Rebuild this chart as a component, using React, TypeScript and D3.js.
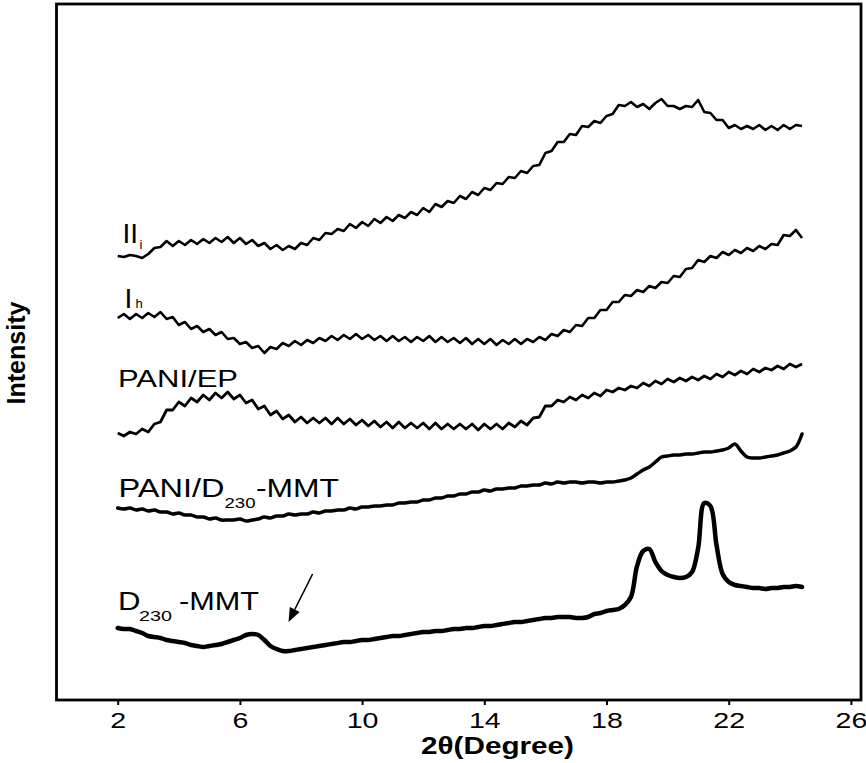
import React, { useEffect, useRef } from "react";
import * as d3 from "d3";

const W = 866;
const H = 763;

// 2θ sampling grid (degrees), 2.0 → 24.4 in 0.2° steps
const twoTheta: number[] = d3.range(113).map((i) => +(2 + i * 0.2).toFixed(1));
const xTicks = [2, 6, 10, 14, 18, 22, 26];

// Intensities (arbitrary units, stacked offsets as in the figure)
const seriesIIi = [
  444, 443, 445, 444, 442, 446, 452, 453, 459, 454,
  459, 455, 460, 456, 461, 457, 462, 458, 463, 457,
  462, 456, 460, 454, 457, 451, 455, 450, 454, 451,
  457, 455, 462, 460, 467, 466, 471, 469, 476, 472,
  478, 474, 481, 477, 483, 479, 485, 482, 488, 485,
  492, 488, 496, 493, 499, 497, 504, 501, 508, 505,
  512, 510, 517, 516, 523, 522, 529, 527, 534, 535,
  547, 549, 558, 558, 566, 565, 574, 573, 579, 577,
  584, 586, 595, 594, 598, 593, 596, 591, 597, 601,
  594, 594, 591, 594, 593, 600, 588, 587, 580, 580,
  572, 575, 571, 574, 571, 575, 570, 574, 570, 575,
  571, 575, 574,
];
const seriesIh = [
  382, 386, 381, 386, 382, 387, 383, 388, 381, 383,
  375, 378, 371, 374, 368, 371, 365, 368, 361, 362,
  356, 358, 352, 354, 347, 353, 351, 357, 354, 359,
  355, 360, 357, 362, 359, 364, 360, 365, 361, 366,
  361, 365, 360, 364, 359, 364, 359, 363, 358, 363,
  359, 364, 358, 363, 358, 362, 357, 362, 356, 361,
  356, 361, 355, 360, 356, 361, 356, 361, 358, 363,
  360, 366, 364, 370, 368, 375, 374, 382, 382, 390,
  390, 398, 398, 405, 404, 410, 408, 414, 412, 418,
  417, 424, 423, 431, 432, 440, 438, 444, 442, 448,
  445, 450, 447, 452, 449, 454, 451, 456, 455, 465,
  464, 470, 462,
];
const seriesPaniEp = [
  267, 264, 268, 266, 271, 268, 276, 278, 290, 290,
  298, 294, 302, 298, 305, 300, 307, 302, 308, 301,
  305, 297, 300, 291, 294, 285, 289, 281, 285, 278,
  283, 277, 282, 277, 282, 276, 282, 276, 281, 275,
  280, 274, 279, 273, 278, 272, 278, 272, 277, 272,
  277, 271, 277, 271, 276, 271, 276, 271, 276, 270,
  276, 271, 276, 271, 277, 273, 279, 275, 282, 283,
  294, 294, 300, 298, 303, 300, 305, 302, 307, 304,
  310, 308, 312, 310, 314, 312, 317, 314, 319, 316,
  321, 318, 322, 319, 323, 320, 324, 321, 326, 323,
  328, 325, 329, 326, 331, 328, 332, 330, 334, 331,
  336, 333, 336,
];
const seriesPaniD230 = [
  192, 191, 192, 190, 191, 189, 190, 188, 188, 186,
  187, 185, 185, 183, 183, 181, 182, 180, 180, 180,
  181, 179, 180, 181, 183, 182, 184, 184, 186, 185,
  186, 186, 188, 187, 189, 189, 190, 190, 192, 191,
  193, 193, 194, 194, 195, 195, 197, 197, 198, 198,
  200, 200, 202, 202, 204, 204, 206, 206, 208, 208,
  210, 209, 211, 211, 212, 212, 214, 214, 215, 215,
  217, 216, 218, 217, 218, 218, 217, 218, 218, 217,
  218, 218, 219, 220, 222, 226, 230, 233, 238, 243,
  244, 245, 245, 246, 246, 247, 248, 248, 249, 250,
  252, 256, 249, 243, 242, 242, 243, 244, 245, 247,
  249, 253, 266,
];
const seriesD230 = [
  72, 71, 71, 69, 67, 64, 63, 62, 60, 59,
  58, 57, 55, 54, 53, 54, 55, 56, 58, 60,
  62, 65, 66, 65, 60, 54, 51, 49, 49, 50,
  51, 52, 53, 54, 55, 56, 57, 58, 58, 59,
  60, 60, 61, 62, 63, 64, 64, 65, 66, 67,
  68, 68, 69, 69, 70, 71, 71, 72, 72, 73,
  74, 74, 75, 76, 77, 78, 78, 79, 80, 81,
  82, 82, 83, 83, 83, 82, 82, 83, 86, 87,
  89, 90, 91, 95, 103, 134, 149, 151, 138, 129,
  125, 123, 122, 123, 128, 152, 197, 194, 155, 126,
  118, 115, 114, 113, 112, 112, 111, 112, 112, 113,
  113, 114, 113,
];

// arrow marking the weak reflection: [2θ, intensity]
const arrowTail: [number, number] = [8.38, 126];
const arrowTip: [number, number] = [7.59, 78];

const FONT = "'Liberation Sans', Arial, Helvetica, sans-serif";

export default function App() {
  const axisRef = useRef<SVGGElement>(null);

  const x = d3.scaleLinear().domain([-0.02, 26.33]).range([56, 861]);
  const y = d3.scaleLinear().domain([0, 697]).range([700, 3]);

  const noisy = d3
    .line<number>()
    .x((_, i) => x(twoTheta[i]))
    .y((d) => y(d))
    .curve(d3.curveLinear);
  const smooth = d3
    .line<number>()
    .x((_, i) => x(twoTheta[i]))
    .y((d) => y(d))
    .curve(d3.curveCatmullRom.alpha(0.5));

  useEffect(() => {
    if (!axisRef.current) return;
    const g = d3.select(axisRef.current);
    g.selectAll("*").remove();
    g.call(
      d3
        .axisBottom(x)
        .tickValues(xTicks)
        .tickSize(5)
        .tickSizeOuter(0)
        .tickPadding(7)
        .tickFormat(d3.format("d"))
    );
    g.select(".domain").remove();
    g.selectAll(".tick line").attr("stroke", "#000").attr("stroke-width", 2);
    g.selectAll(".tick text")
      .attr("font-size", 22)
      .attr("font-family", FONT)
      .attr("fill", "#000")
      .attr("transform", "scale(1.3,1)");
  }, []);

  const tx = x(arrowTail[0]);
  const ty = y(arrowTail[1]);
  const hx = x(arrowTip[0]);
  const hy = y(arrowTip[1]);
  const len = Math.hypot(hx - tx, hy - ty);
  const ux = (hx - tx) / len;
  const uy = (hy - ty) / len;
  const headL = 14;
  const headW = 5.5;
  const bx = hx - ux * headL;
  const by = hy - uy * headL;
  const px = -uy;
  const py = ux;

  return (
    <svg
      width={W}
      height={H}
      style={{ position: "absolute", left: 0, top: 0, background: "#fff" }}
    >
      <rect x={0} y={0} width={W} height={H} fill="#fff" />
      <rect
        x={56.5}
        y={4}
        width={804.5}
        height={696}
        fill="none"
        stroke="#000"
        strokeWidth={2.8}
      />
      <g ref={axisRef} transform="translate(0,700)" />

      <path d={noisy(seriesIIi) || ""} fill="none" stroke="#000" strokeWidth={2.6} strokeLinejoin="round" />
      <path d={noisy(seriesIh) || ""} fill="none" stroke="#000" strokeWidth={2.6} strokeLinejoin="round" />
      <path d={noisy(seriesPaniEp) || ""} fill="none" stroke="#000" strokeWidth={2.8} strokeLinejoin="round" />
      <path d={smooth(seriesPaniD230) || ""} fill="none" stroke="#000" strokeWidth={3.5} strokeLinejoin="round" strokeLinecap="round" />
      <path d={smooth(seriesD230) || ""} fill="none" stroke="#000" strokeWidth={4.5} strokeLinejoin="round" strokeLinecap="round" />

      <line x1={tx} y1={ty} x2={bx} y2={by} stroke="#000" strokeWidth={1.6} />
      <polygon
        points={`${hx},${hy} ${bx + px * headW},${by + py * headW} ${bx - px * headW},${by - py * headW}`}
        fill="#000"
      />

      <g fontFamily={FONT} fill="#000">
        <text x={122.5} y={243} fontSize={28}>II</text>
        <text x={139.5} y={249} fontSize={13}>i</text>
        <text x={124.5} y={308} fontSize={28}>I</text>
        <text x={135.5} y={307.5} fontSize={13}>h</text>
        <text x={118} y={387} fontSize={24} textLength={120} lengthAdjust="spacingAndGlyphs">PANI/EP</text>
        <text x={118.5} y={496.5} fontSize={25} textLength={106} lengthAdjust="spacingAndGlyphs">PANI/D</text>
        <text x={224.5} y={507.5} fontSize={15} textLength={31} lengthAdjust="spacingAndGlyphs">230</text>
        <text x={256} y={496.5} fontSize={25} textLength={83} lengthAdjust="spacingAndGlyphs">-MMT</text>
        <text x={118} y={610} fontSize={25} textLength={22.5} lengthAdjust="spacingAndGlyphs">D</text>
        <text x={139} y={621} fontSize={15} textLength={33} lengthAdjust="spacingAndGlyphs">230</text>
        <text x={179} y={610} fontSize={25} textLength={80} lengthAdjust="spacingAndGlyphs">-MMT</text>
      </g>

      <text
        x={421}
        y={754}
        fontFamily={FONT}
        fontWeight="bold"
        fontSize={23}
        textLength={153}
        lengthAdjust="spacingAndGlyphs"
        fill="#000"
      >
        2θ(Degree)
      </text>
      <text
        transform="translate(25,353) rotate(-90)"
        textAnchor="middle"
        fontFamily={FONT}
        fontWeight="bold"
        fontSize={25}
        textLength={103}
        lengthAdjust="spacingAndGlyphs"
        fill="#000"
      >
        Intensity
      </text>
    </svg>
  );
}
